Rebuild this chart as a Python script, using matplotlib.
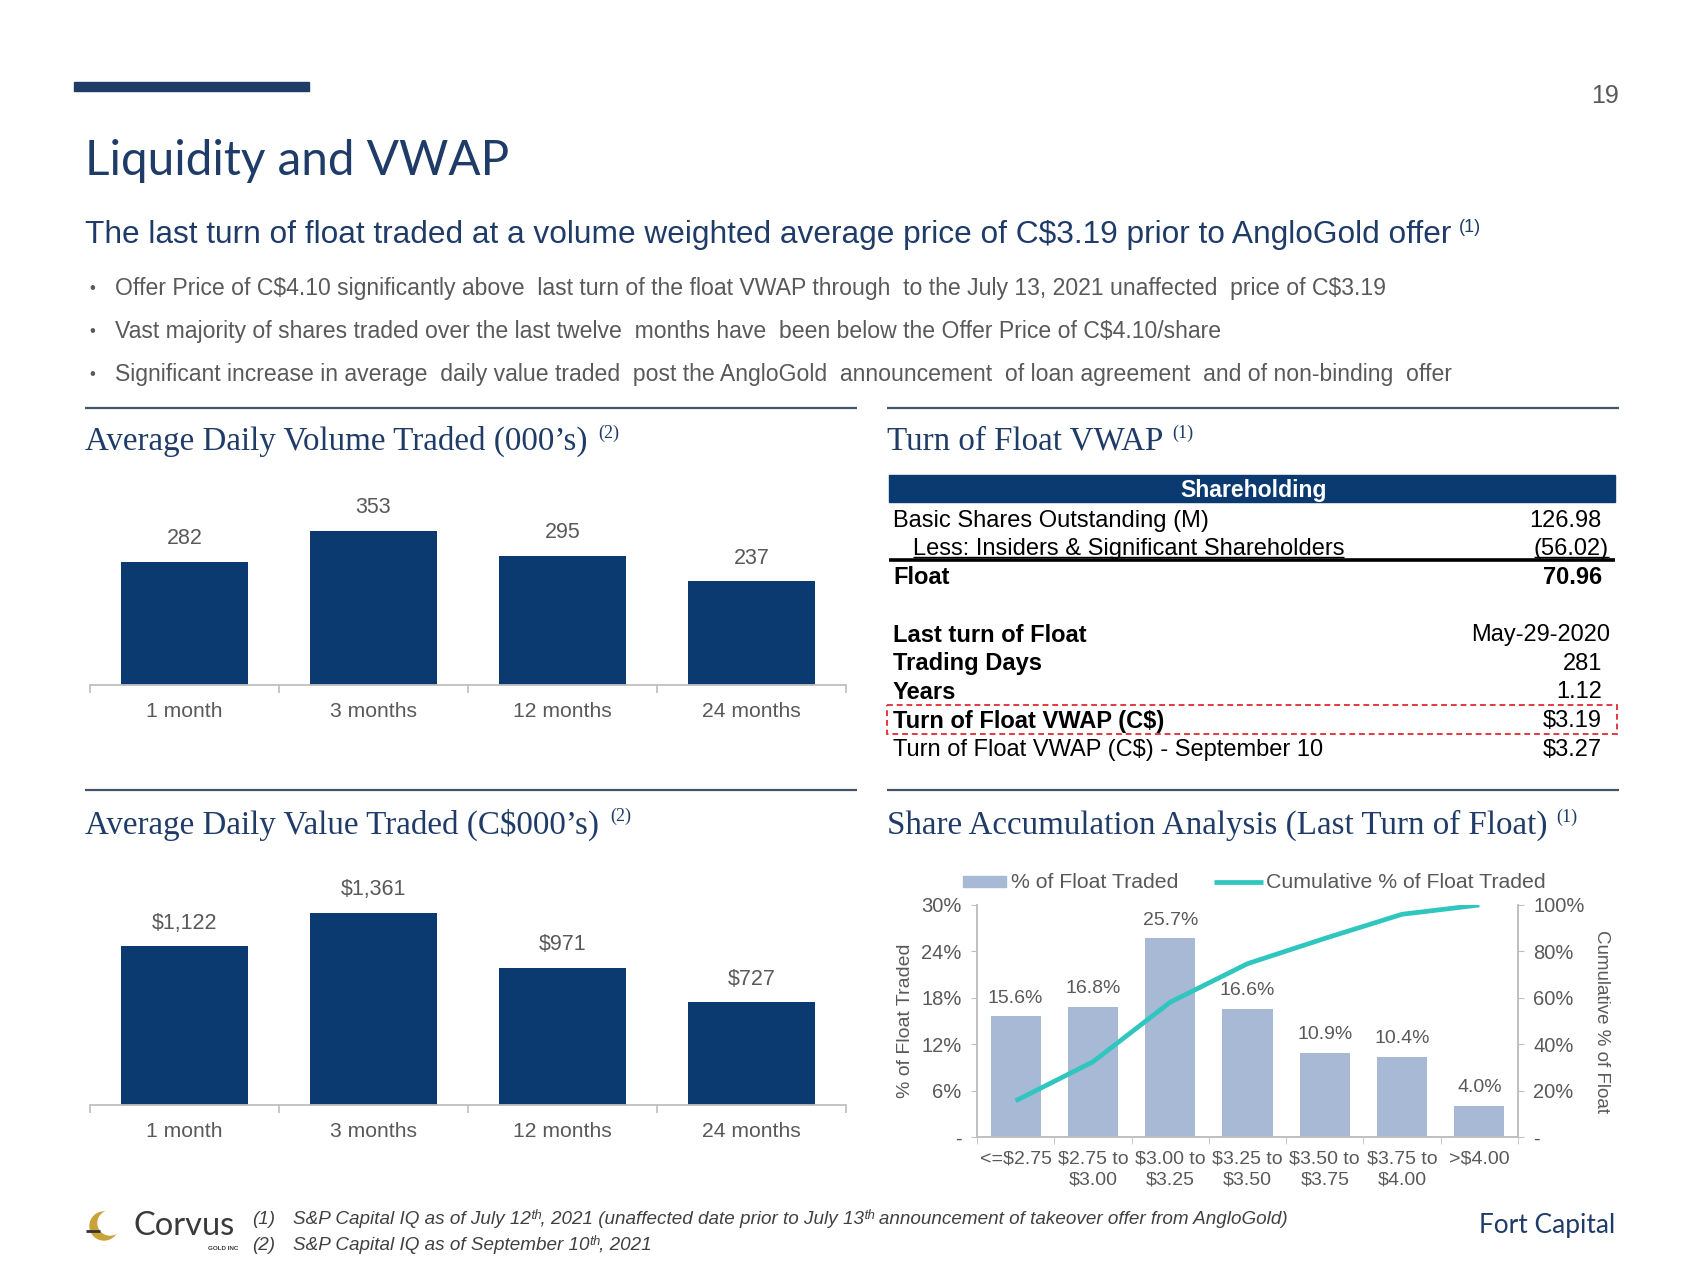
import numpy as np
import matplotlib
matplotlib.use("Agg")
import matplotlib.pyplot as plt
from matplotlib.patches import Rectangle, Circle

W, H = 1700, 1276

# -- data ---------------------------------------------------------------
periods = ["1 month", "3 months", "12 months", "24 months"]
volume_k = [282, 353, 295, 237]
volume_labels = ["282", "353", "295", "237"]
value_k = [1122, 1361, 971, 727]
value_labels = ["$1,122", "$1,361", "$971", "$727"]

price_bins = ["<=$2.75", "$2.75 to\n$3.00", "$3.00 to\n$3.25", "$3.25 to\n$3.50",
              "$3.50 to\n$3.75", "$3.75 to\n$4.00", ">$4.00"]
float_traded = [15.6, 16.8, 25.7, 16.6, 10.9, 10.4, 4.0]
cum_traded = [15.6, 32.4, 58.1, 74.7, 85.6, 96.0, 100.0]
left_ticks = [0, 6, 12, 18, 24, 30]
left_tick_labels = ["-", "6%", "12%", "18%", "24%", "30%"]
right_ticks = [0, 20, 40, 60, 80, 100]
right_tick_labels = ["-", "20%", "40%", "60%", "80%", "100%"]

share_rows = [("Basic Shares Outstanding (M)", "126.98"),
              ("Less: Insiders & Significant Shareholders", "(56.02)"),
              ("Float", "70.96")]
turn_rows = [("Last turn of Float", "May-29-2020"),
             ("Trading Days", "281"),
             ("Years", "1.12"),
             ("Turn of Float VWAP (C$)", "$3.19"),
             ("Turn of Float VWAP (C$) - September 10", "$3.27")]

bullets = [
    "Offer Price of C$4.10 significantly above  last turn of the float VWAP through  to the July 13, 2021 unaffected  price of C$3.19",
    "Vast majority of shares traded over the last twelve  months have  been below the Offer Price of C$4.10/share",
    "Significant increase in average  daily value traded  post the AngloGold  announcement  of loan agreement  and of non-binding  offer",
]
footnotes = [
    "S&P Capital IQ as of July 12ᵗʰ, 2021 (unaffected date prior to July 13ᵗʰ announcement of takeover offer from AngloGold)",
    "S&P Capital IQ as of September 10ᵗʰ, 2021",
]

# -- style ---------------------------------------------------------------
plt.rcParams["text.parse_math"] = False
SANS = ["Liberation Sans", "DejaVu Sans"]
SERIF = ["Liberation Serif", "DejaVu Serif"]
CALI = ["Lato", "Open Sans", "DejaVu Sans"]

NAVY = "#0B3A70"
HEAD = "#1F3B68"
GRAY = "#595959"
AXG = "#BFBFBF"
LIGHT = "#A7B9D5"
TEAL = "#2EC6BE"
RED = "#E03A40"

fig = plt.figure(figsize=(W / 100, H / 100), dpi=100)
bg = fig.add_axes([0, 0, 1, 1])
bg.set_xlim(0, W)
bg.set_ylim(H, 0)
bg.axis("off")
renderer = fig.canvas.get_renderer()


def box(x0, x1, y0, y1):
    return [x0 / W, 1 - y1 / H, (x1 - x0) / W, (y1 - y0) / H]


def txt(x, y, s, size, color="black", family=SANS, ha="left", va="center", **kw):
    return bg.text(x, y, s, fontsize=size, color=color, family=family, ha=ha, va=va, **kw)


def sup_after(t, s, size, color, family=SANS, gap=8, dy=0):
    bb = t.get_window_extent(renderer)
    return txt(bb.x1 + gap, H - bb.y1 + dy, s, size, color, family, va="top")


def hline(x0, x1, y, color, lw, **kw):
    bg.plot([x0, x1], [y, y], color=color, lw=lw, solid_capstyle="butt", **kw)


# -- header -------------------------------------------------------------
bg.add_patch(Rectangle((74, 82), 235, 9, color=HEAD))
txt(85, 161, "Liquidity and VWAP", 34.3, HEAD, CALI)
txt(1619, 96, "19", 18, GRAY, SANS, ha="right")
t = txt(85, 235, "The last turn of float traded at a volume weighted average price of C$3.19 prior to AngloGold offer",
        22.8, HEAD, SANS)
sup_after(t, "(1)", 13, HEAD, gap=8, dy=-1)
for i, b in enumerate(bullets):
    y = 289 + 42.5 * i
    txt(89, y, "•", 12, GRAY, SANS)
    txt(115, y, b, 16.6, GRAY, SANS)

# -- section rules and headings ------------------------------------------
for x0, x1, y in [(85, 857, 408), (887, 1619, 408), (85, 857, 790), (887, 1619, 790)]:
    hline(x0, x1, y, "#44546A", 1.6)

t = txt(85, 441, "Average Daily Volume Traded (000’s)", 23.8, HEAD, SERIF)
sup_after(t, "(2)", 13, HEAD, SERIF, gap=11, dy=-1)
t = txt(85, 825, "Average Daily Value Traded (C$000’s)", 23.8, HEAD, SERIF)
sup_after(t, "(2)", 13, HEAD, SERIF, gap=11, dy=-1)
t = txt(887, 441, "Turn of Float VWAP", 23.8, HEAD, SERIF)
sup_after(t, "(1)", 13, HEAD, SERIF, gap=9, dy=-1)
t = txt(887, 825, "Share Accumulation Analysis (Last Turn of Float)", 23.8, HEAD, SERIF)
sup_after(t, "(1)", 13, HEAD, SERIF, gap=9, dy=-1)


# -- left bar charts ----------------------------------------------------
def bar_panel(rect, values, labels, ymax):
    ax = fig.add_axes(rect)
    ax.set_facecolor("none")
    x = np.arange(len(values))
    ax.bar(x, values, width=0.667, color=NAVY)
    ax.set_xlim(-0.5, len(values) - 0.5)
    ax.set_ylim(0, ymax)
    for s in ["top", "left", "right"]:
        ax.spines[s].set_visible(False)
    ax.spines["bottom"].set_color(AXG)
    ax.spines["bottom"].set_linewidth(1.3)
    ax.set_yticks([])
    ax.set_xticks(x)
    ax.set_xticklabels(periods, fontsize=15.2, color=GRAY, family=SANS)
    ax.tick_params(axis="x", which="major", length=0, pad=12)
    ax.set_xticks(np.arange(-0.5, len(values)), minor=True)
    ax.tick_params(axis="x", which="minor", length=6, color=AXG, width=1.2)
    for xi, v, lab in zip(x, values, labels):
        ax.annotate(lab, (xi, v), xytext=(0, 9), textcoords="offset points",
                    ha="center", va="bottom", fontsize=15.5, color=GRAY,
                    family=SANS, annotation_clip=False)
    return ax


bar_panel(box(90, 846, 510, 685), volume_k, volume_labels, 400)
bar_panel(box(90, 846, 893, 1105), value_k, value_labels, 1500)

# -- turn of float table -------------------------------------------------
bg.add_patch(Rectangle((889, 475), 726, 27, color=NAVY))
txt(1254, 490, "Shareholding", 16.6, "white", SANS, ha="center", weight="bold")

TS = 17
for i, (lab, val) in enumerate(share_rows):
    y = 521 + 28.5 * i
    bold = "bold" if lab == "Float" else "normal"
    indent = 20 if lab.startswith("Less") else 0
    xr = 1609 if val.startswith("(") else 1602
    tl = txt(893 + indent, y, lab, TS, "black", SANS, weight=bold)
    tv = txt(xr, y, val, TS, "black", SANS, ha="right", weight=bold)
    if lab.startswith("Less"):
        for tt in (tl, tv):
            bb = tt.get_window_extent(renderer)
            hline(bb.x0, bb.x1, 557, "black", 1.0)
hline(889, 1615, 560, "black", 2.6)

for i, (lab, val) in enumerate(turn_rows):
    y = 635 + 28.7 * i
    bold = "normal" if "September" in lab else "bold"
    xr = 1610 if "-" in val else 1602
    txt(893, y, lab, TS, "black", SANS, weight=bold)
    txt(xr, y, val, TS, "black", SANS, ha="right", weight="normal")
bg.add_patch(Rectangle((887, 705), 730, 29, fill=False, ec=RED, lw=1.4, ls=(0, (3, 2))))

# -- share accumulation chart --------------------------------------------
ax3 = fig.add_axes(box(977, 1518, 905, 1137))
ax3.set_facecolor("none")
xb = np.arange(len(float_traded))
ax3.bar(xb, float_traded, width=0.65, color=LIGHT)
ax3.set_xlim(-0.5, len(float_traded) - 0.5)
ax3.set_ylim(0, 30)
ax3.set_yticks(left_ticks)
ax3.set_yticklabels(left_tick_labels, fontsize=14.5, color=GRAY, family=SANS)
ax3.set_xticks(xb)
ax3.set_xticklabels(price_bins, fontsize=14, color=GRAY, family=SANS, linespacing=1.25)
ax3.tick_params(axis="x", which="major", length=0, pad=10)
ax3.set_xticks(np.arange(-0.5, len(float_traded)), minor=True)
ax3.tick_params(axis="x", which="minor", length=5, color=AXG)
ax3.tick_params(axis="y", length=4, color=AXG, pad=7)
for xi, v in zip(xb, float_traded):
    ax3.annotate(f"{v:.1f}%", (xi, v), xytext=(0, 7), textcoords="offset points",
                 ha="center", va="bottom", fontsize=14, color=GRAY,
                 family=SANS, annotation_clip=False)
ax3.set_ylabel("% of Float Traded", fontsize=14, color=GRAY, family=SANS, labelpad=5)

ax4 = ax3.twinx()
ax4.plot(xb, cum_traded, color=TEAL, lw=3.4, solid_capstyle="butt")
ax4.set_ylim(0, 100)
ax4.set_yticks(right_ticks)
ax4.set_yticklabels(right_tick_labels, fontsize=14.5, color=GRAY, family=SANS)
ax4.tick_params(axis="y", length=4, color=AXG, pad=7)
ax4.set_ylabel("Cumulative % of Float", fontsize=13.5, color=GRAY, family=SANS,
               rotation=-90, labelpad=18)
for a in (ax3, ax4):
    a.spines["top"].set_visible(False)
    for s in ["left", "right", "bottom"]:
        a.spines[s].set_color(AXG)
        a.spines[s].set_linewidth(1.2)

# legend
bg.add_patch(Rectangle((963, 876), 43, 11, color=LIGHT))
txt(1011, 882, "% of Float Traded", 15.3, GRAY, SANS)
hline(1214, 1263, 882, TEAL, 3.4)
txt(1266, 882, "Cumulative % of Float Traded", 15.3, GRAY, SANS)

# -- footer -------------------------------------------------------------
bg.add_patch(Circle((104, 1226), 14, color="#C9A23A"))
bg.add_patch(Circle((110, 1223), 12, color="white"))
hline(86, 100, 1231, "#333333", 2.0)
txt(134, 1226, "Corvus", 23.5, "#3A3A3A", CALI)
txt(238, 1248, "GOLD INC", 4.5, "#3A3A3A", SANS, ha="right", weight="bold")
for i, fn in enumerate(footnotes):
    y = 1219 + 26 * i
    txt(252, y, f"({i + 1})", 13.6, "#404040", SANS, style="italic")
    txt(293, y, fn, 13.6, "#404040", SANS, style="italic")
txt(1615, 1226, "Fort Capital", 18.9, HEAD, CALI, ha="right")

fig.savefig("out.png", dpi=100)
